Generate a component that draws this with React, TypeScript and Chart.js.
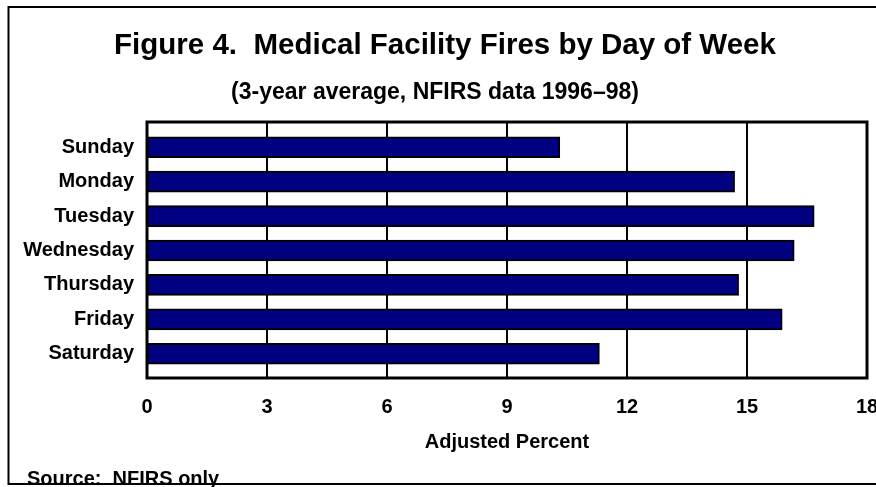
import React, { useEffect, useRef } from "react";
import { Chart, registerables } from "chart.js";

Chart.register(...registerables);

const days = ["Sunday", "Monday", "Tuesday", "Wednesday", "Thursday", "Friday", "Saturday"];
const adjustedPercent = [10.32, 14.69, 16.68, 16.18, 14.79, 15.88, 11.31];
const xTicks = [0, 3, 6, 9, 12, 15, 18];
const titleText = "Figure 4.  Medical Facility Fires by Day of Week";
const subtitleText = "(3-year average, NFIRS data 1996\u201398)";
const xTitle = "Adjusted Percent";
const sourceText = "Source:  NFIRS only";

const FONT = "'Liberation Sans', Arial, Helvetica, sans-serif";

const framePlugin = {
  id: "framePlugin",
  beforeDatasetsDraw(chart: any) {
    const { ctx, chartArea, scales } = chart;
    const x = scales.x;
    const top = chartArea.top - 8;
    const bottom = chartArea.bottom + 7;
    ctx.save();
    ctx.strokeStyle = "#000";
    ctx.lineWidth = 2;
    xTicks.slice(1, -1).forEach((v) => {
      const px = Math.round(x.getPixelForValue(v));
      ctx.beginPath();
      ctx.moveTo(px, top);
      ctx.lineTo(px, bottom);
      ctx.stroke();
    });
    ctx.restore();
  },
  afterDatasetsDraw(chart: any) {
    const { ctx, chartArea, scales } = chart;
    const x = scales.x;
    const left = x.getPixelForValue(xTicks[0]);
    const right = x.getPixelForValue(xTicks[xTicks.length - 1]);
    const top = chartArea.top - 8;
    const bottom = chartArea.bottom + 7;
    ctx.save();
    ctx.strokeStyle = "#000";
    ctx.lineWidth = 3;
    ctx.strokeRect(left, top, right - left, bottom - top);
    ctx.restore();
  },
  afterDraw(chart: any) {
    const { ctx } = chart;
    ctx.save();
    ctx.strokeStyle = "#000";
    ctx.lineWidth = 2;
    ctx.strokeRect(8.5, 7, 880, 477);
    ctx.fillStyle = "#000";
    ctx.textAlign = "center";
    ctx.textBaseline = "alphabetic";
    ctx.font = `bold 29.5px ${FONT}`;
    ctx.fillText(titleText, 445, 54);
    ctx.font = `bold 23px ${FONT}`;
    ctx.fillText(subtitleText, 435, 99);
    ctx.textAlign = "left";
    ctx.font = `bold 20px ${FONT}`;
    ctx.fillText(sourceText, 27, 485);
    ctx.restore();
  },
};

export default function App() {
  const ref = useRef<HTMLCanvasElement | null>(null);
  useEffect(() => {
    if (!ref.current) return;
    const chart = new Chart(ref.current, {
      type: "bar",
      data: {
        labels: days,
        datasets: [
          {
            data: adjustedPercent,
            backgroundColor: "#000080",
            borderColor: "#000000",
            borderWidth: 2,
            borderSkipped: "start",
            barThickness: 21,
          },
        ],
      },
      options: {
        indexAxis: "y",
        responsive: false,
        animation: false,
        layout: { padding: { top: 130, right: 9, bottom: 0, left: 0 } },
        plugins: {
          legend: { display: false },
          tooltip: { enabled: false },
          title: { display: false },
        },
        scales: {
          x: {
            type: "linear",
            min: 0,
            max: 18,
            afterBuildTicks: (scale: any) => {
              scale.ticks = xTicks.map((v) => ({ value: v }));
            },
            afterFit: (scale: any) => {
              scale.height = 116;
              scale.paddingLeft = 0;
              scale.paddingRight = 0;
            },
            grid: { display: false, drawTicks: false },
            border: { display: false },
            ticks: {
              color: "#000",
              padding: 24,
              maxRotation: 0,
              autoSkip: false,
              font: { family: FONT, size: 20, weight: "bold" },
            },
            title: {
              display: true,
              text: xTitle,
              color: "#000",
              padding: { top: 0, bottom: 33 },
              font: { family: FONT, size: 20, weight: "bold" },
            },
          },
          y: {
            type: "category",
            afterFit: (scale: any) => {
              scale.width = 147;
            },
            grid: { display: false, drawTicks: false },
            border: { display: false },
            ticks: {
              color: "#000",
              padding: 13,
              font: { family: FONT, size: 20, weight: "bold" },
            },
          },
        },
      },
      plugins: [framePlugin],
    } as any);
    return () => chart.destroy();
  }, []);

  return (
    <div style={{ position: "fixed", left: 0, top: 0, width: 876, height: 487, background: "#fff", overflow: "hidden" }}>
      <canvas ref={ref} width={876} height={487} style={{ display: "block" }} />
    </div>
  );
}
